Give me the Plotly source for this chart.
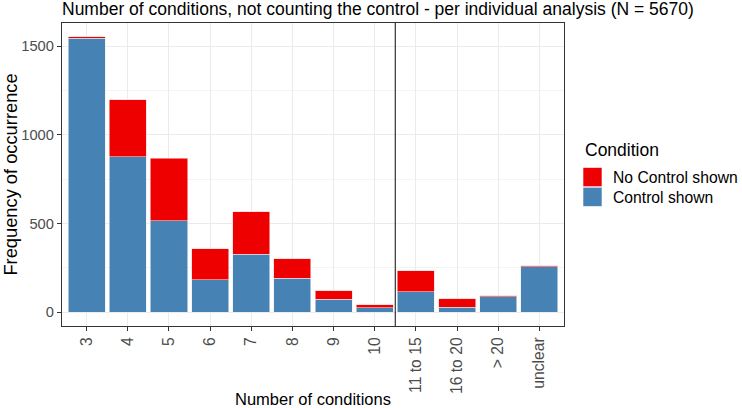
import plotly.graph_objects as go

# counts
categories = ['3', '4', '5', '6', '7', '8', '9', '10', '11 to 15', '16 to 20', '> 20', 'unclear']
control_shown = [1545, 876, 516, 182, 328, 191, 73, 24, 114, 28, 86, 255]
no_control_shown = [7, 320, 351, 175, 237, 109, 47, 17, 120, 47, 6, 7]

font = 'Liberation Sans, Arial, sans-serif'
blue = '#4682B4'
red = '#EE0000'

# plot area in pixels: x 62..564, y 23..326
def px_x(p):
    return (p - 62) / 502

def px_y(p):
    return (326 - p) / 303

fig = go.Figure()
fig.add_trace(go.Bar(x=categories, y=control_shown, name='Control shown',
                     marker=dict(color=blue, line=dict(color='#E8EEF5', width=0.6)),
                     width=0.9))
fig.add_trace(go.Bar(x=categories, y=no_control_shown, name='No Control shown',
                     marker=dict(color=red, line=dict(color='#F8D0D0', width=0.6)),
                     width=0.9))

# separator between the single counts and the grouped counts
fig.add_vline(x=7.5, line=dict(color='#333333', width=1.2))

# ggplot style legend on the right (big square keys)
fig.add_annotation(text='Condition', xref='paper', yref='paper',
                   x=px_x(583), y=px_y(150), xanchor='left', yanchor='middle',
                   showarrow=False, font=dict(size=17.5, color='black'))
for i, (label, colour) in enumerate([('No Control shown', red), ('Control shown', blue)]):
    top = 167.5 + i * 19.8
    fig.add_shape(type='rect', xref='paper', yref='paper',
                  x0=px_x(583), x1=px_x(602), y0=px_y(top), y1=px_y(top + 19.2),
                  fillcolor=colour, line=dict(color='white', width=0.6))
    fig.add_annotation(text=label, xref='paper', yref='paper',
                       x=px_x(611), y=px_y(top + 10), xanchor='left', yanchor='middle',
                       showarrow=False, font=dict(size=15.7, color='black'))

fig.update_layout(
    barmode='stack',
    width=742, height=408,
    margin=dict(l=62, r=178, t=23, b=82),
    plot_bgcolor='white', paper_bgcolor='white',
    font=dict(family=font, color='black'),
    showlegend=False,
    title=dict(text='Number of conditions, not counting the control - per individual analysis (N = 5670)',
               x=0, xref='paper', xanchor='left', y=1 - 9 / 408, yanchor='middle',
               font=dict(size=17.5, color='black')),
)
fig.update_xaxes(
    type='category', range=[-0.6, 11.6], automargin=False,
    tickangle=-90, tickfont=dict(size=15.7, color='#4D4D4D'),
    ticks='outside', ticklen=4, tickcolor='#333333',
    showgrid=True, gridcolor='#EBEBEB',
    showline=True, linecolor='#333333', linewidth=1.2, mirror=True,
    title=dict(text='Number of conditions', font=dict(size=16.5), standoff=8),
)
fig.update_yaxes(
    range=[-77.6, 1629.6], tickvals=[0, 500, 1000, 1500], automargin=False,
    tickfont=dict(size=14.7, color='#4D4D4D'),
    ticks='outside', ticklen=4, tickcolor='#333333',
    showgrid=True, gridcolor='#EBEBEB', zeroline=False,
    minor=dict(tickvals=[250, 750, 1250], showgrid=True, gridcolor='#F4F4F4', ticks=''),
    showline=True, linecolor='#333333', linewidth=1.2, mirror=True,
    title=dict(text='Frequency of occurrence', font=dict(size=18.3), standoff=2),
)

# the page's default body margin would shift the figure by 8px
fig.write_html('out.html', config={'displayModeBar': False},
               post_script="document.body.style.margin='0';")
